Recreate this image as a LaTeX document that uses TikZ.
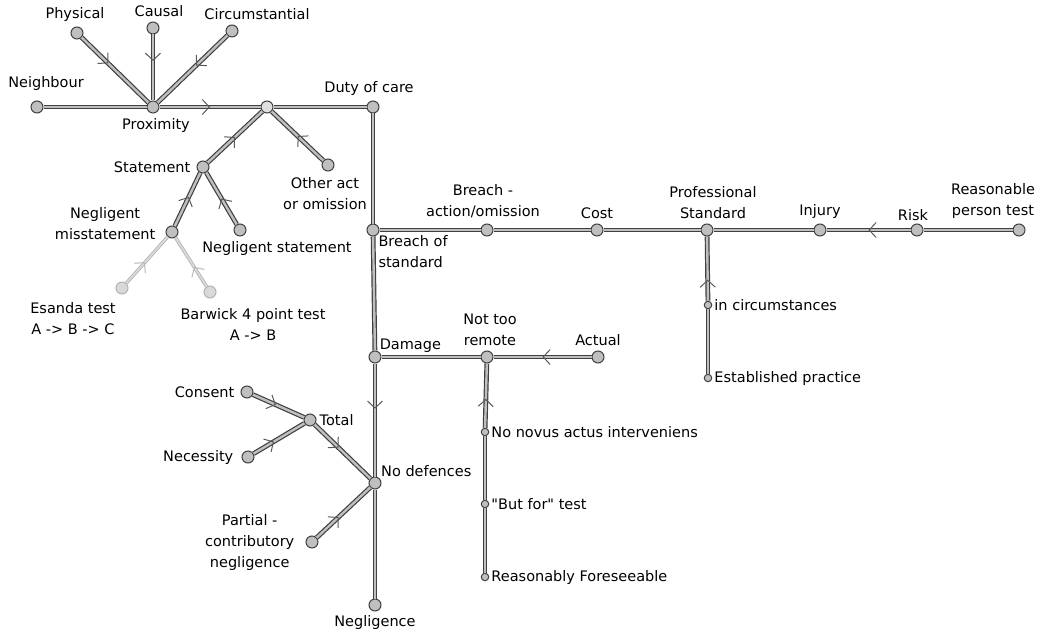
\documentclass[tikz,border=0pt]{standalone}
\usepackage{fontspec}
\setmainfont{DejaVu Sans}
\usetikzlibrary{arrows.meta,decorations.markings}
\newcommand{\lblfont}{\fontsize{14.5}{21}\selectfont}
\newcommand{\straightq}{\XeTeXglyph\XeTeXcharglyph"22\relax}

\begin{document}
\begin{tikzpicture}[x=1pt, y=-1pt,
  spot/.style={circle, draw=black!75, fill=gray!50, line width=1pt, minimum size=12pt, inner sep=0pt},
  pale/.style={spot, draw=gray!60, fill=gray!30},
  hub/.style={spot, fill=gray!25},
  pin/.style={spot, minimum size=7.5pt},
  every label/.style={font=\lblfont, inner sep=0pt, align=center, text=black},
  label distance=5pt,
  link/.style={draw=gray!50, line width=2.4pt, preaction={draw=black!75, line width=4.8pt}},
  faint/.style={draw=gray!30, line width=1.8pt, preaction={draw=gray!60, line width=3.4pt}},
  flow/.style={postaction={decorate}, decoration={markings, mark=at position #1 with {\arrow{Straight Barb[color=black!65, length=7pt, width=15pt, line width=1pt]}}}},
  flow/.default=0.5,
  fadeflow/.style={postaction={decorate}, decoration={markings, mark=at position #1 with {\arrow{Straight Barb[color=gray!55, length=7pt, width=15pt, line width=1pt]}}}},
  fadeflow/.default=0.5]
\useasboundingbox (0,0) rectangle (1041,639);

% Duty of care
\node[spot, label={[xshift=-2pt]above:Physical}] (physical) at (77,33) {};
\node[spot, label={[xshift=6pt]above:Causal}] (causal) at (153,28) {};
\node[spot, label={[xshift=25pt]above:Circumstantial}] (circum) at (232,31) {};
\node[spot, label={[label distance=10pt, xshift=9pt]above:Neighbour}] (neighbour) at (37,107) {};
\node[spot, label={[xshift=3pt]below:Proximity}] (proximity) at (153,107) {};
\node[hub] (hub) at (267,107) {};
\node[spot, label={[xshift=-4pt]above:Duty of care}] (duty) at (373,107) {};
\node[spot, label={[label distance=6pt]left:Statement}] (statement) at (203,167) {};
\node[spot, label={[label distance=6pt, xshift=-3pt]below:Other act\\or omission}] (other) at (328,165) {};
\node[spot, label={[label distance=10pt, yshift=8pt]left:Negligent\\misstatement}] (misstate) at (172,232) {};
\node[spot, label={[label distance=5pt, xshift=37pt]below:Negligent statement}] (negstate) at (240,230) {};
\node[pale, label={[label distance=8pt, xshift=-49pt]below:Esanda test\\A -> B -> C}] (esanda) at (122,288) {};
\node[pale, label={[label distance=10pt, xshift=43pt]below:Barwick 4 point test\\A -> B}] (barwick) at (210,292) {};

% Breach of standard
\node[spot, label={[align=left, label distance=1pt]below right:Breach of\\standard}] (breach) at (373,230) {};
\node[spot, label={[xshift=-4pt]above:Breach -\\action/omission}] (action) at (487,230) {};
\node[spot, label={above:Cost}] (cost) at (597,230) {};
\node[spot, label={[xshift=6pt]above:Professional\\Standard}] (profstd) at (707,230) {};
\node[spot, label={above:Injury}] (injury) at (820,230) {};
\node[spot, label={[xshift=-4pt, label distance=3pt]above:Risk}] (risk) at (917,230) {};
\node[spot, label={[xshift=-26pt]above:Reasonable\\person test}] (reasonable) at (1019,230) {};
\node[pin, label={[label distance=2pt]right:in circumstances}] (incirc) at (708,305) {};
\node[pin, label={[label distance=2pt]right:Established practice}] (practice) at (708,378) {};

% Damage
\node[spot, label={[label distance=0pt]above right:Damage}] (damage) at (375,357) {};
\node[spot, label={[xshift=3pt]above:Not too\\remote}] (remote) at (487,357) {};
\node[spot, label={above:Actual}] (actual) at (598,357) {};
\node[pin, label={[label distance=2pt]right:No novus actus interveniens}] (novus) at (485,432) {};
\node[pin, label={[label distance=2pt]right:\straightq But for\straightq\ test}] (butfor) at (485,504) {};
\node[pin, label={[label distance=2pt]right:Reasonably Foreseeable}] (foresee) at (485,577) {};

% Defences
\node[spot, label={[label distance=2pt]above right:No defences}] (nodef) at (375,483) {};
\node[spot, label={[label distance=4pt]below:Negligence}] (negligence) at (375,605) {};
\node[spot, label={[label distance=3pt]right:Total}] (total) at (310,420) {};
\node[spot, label={[label distance=6pt]left:Consent}] (consent) at (247,392) {};
\node[spot, label={[label distance=8pt]left:Necessity}] (necessity) at (248,457) {};
\node[spot, label={[label distance=11pt]left:Partial -\\contributory\\negligence}] (partial) at (312,542) {};

% Links
\draw[link] (neighbour) -- (proximity);
\draw[link, flow=0.4] (physical) -- (proximity);
\draw[link, flow=0.4] (causal) -- (proximity);
\draw[link, flow=0.45] (circum) -- (proximity);
\draw[link, flow] (proximity) -- (hub);
\draw[link] (hub) -- (duty);
\draw[link, flow] (statement) -- (hub);
\draw[link, flow] (other) -- (hub);
\draw[link, flow=0.55] (misstate) -- (statement);
\draw[link, flow] (negstate) -- (statement);
\draw[faint, fadeflow=0.45] (esanda) -- (misstate);
\draw[faint, fadeflow=0.4] (barwick) -- (misstate);

\draw[link] (duty) -- (breach);
\draw[link] (breach) -- (action);
\draw[link] (action) -- (cost);
\draw[link] (cost) -- (profstd);
\draw[link] (profstd) -- (injury);
\draw[link, flow] (risk) -- (injury);
\draw[link] (reasonable) -- (risk);
\draw[link, flow=0.33] (incirc) -- (profstd);
\draw[link] (practice) -- (incirc);

\draw[link] (breach) -- (damage);
\draw[link] (damage) -- (remote);
\draw[link, flow] (actual) -- (remote);
\draw[link, flow=0.45] (novus) -- (remote);
\draw[link] (butfor) -- (novus);
\draw[link] (foresee) -- (butfor);

\draw[link, flow=0.4] (damage) -- (nodef);
\draw[link] (nodef) -- (negligence);
\draw[link, flow=0.45] (consent) -- (total);
\draw[link, flow=0.4] (necessity) -- (total);
\draw[link, flow=0.43] (total) -- (nodef);
\draw[link, flow=0.41] (partial) -- (nodef);
\end{tikzpicture}
\end{document}
